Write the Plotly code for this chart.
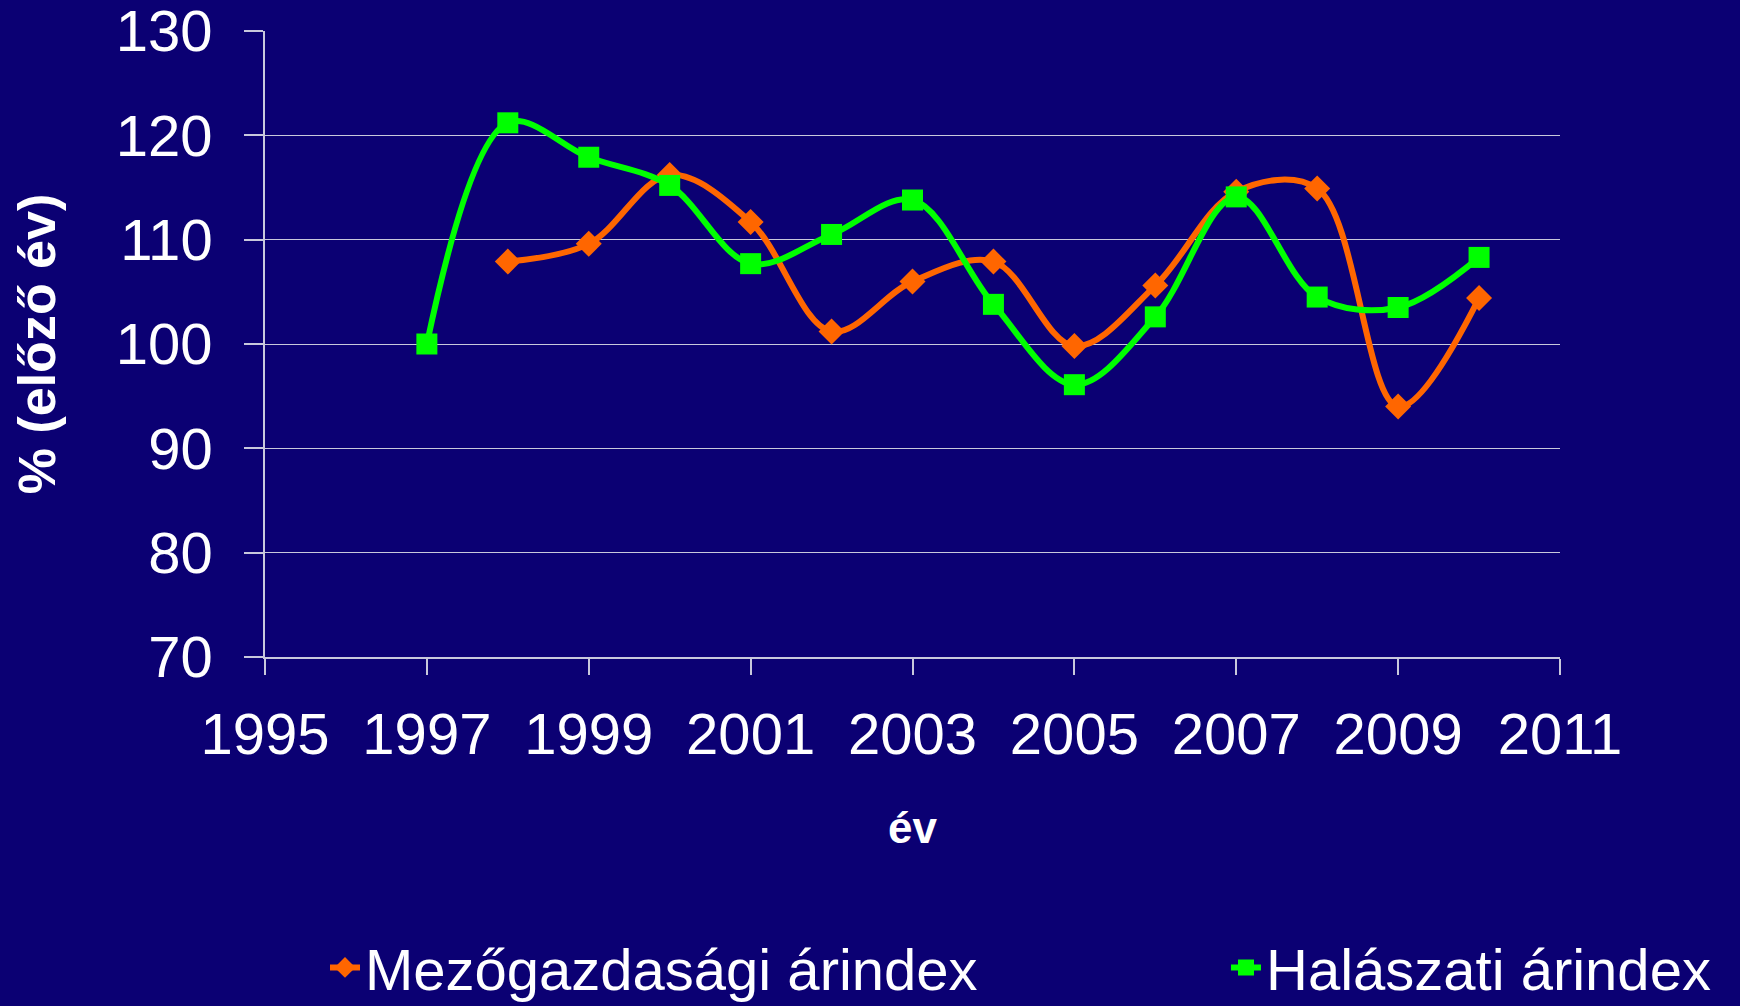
import plotly.graph_objects as go

# year-on-year price indices (% of previous year)
years_agri = [1998, 1999, 2000, 2001, 2002, 2003, 2004, 2005, 2006, 2007, 2008, 2009, 2010]
agri_index = [107.9, 109.6, 116.2, 111.7, 101.2, 106.0, 107.9, 99.8, 105.6, 114.6, 114.9, 94.0, 104.4]

years_fish = [1997, 1998, 1999, 2000, 2001, 2002, 2003, 2004, 2005, 2006, 2007, 2008, 2009, 2010]
fish_index = [100.0, 121.2, 117.9, 115.2, 107.7, 110.5, 113.8, 103.8, 96.1, 102.6, 114.1, 104.5, 103.5, 108.3]

bg = "#0b0073"
grid = "#c8c8dc"
font_family = "Liberation Sans, Arial, sans-serif"

fig = go.Figure()
fig.add_scatter(
    x=years_agri, y=agri_index, name="Mezőgazdasági árindex", legend="legend",
    mode="lines+markers", line=dict(color="#ff6600", width=6, shape="spline", smoothing=1),
    marker=dict(symbol="diamond", size=20, color="#ff6600"),
)
fig.add_scatter(
    x=years_fish, y=fish_index, name="Halászati árindex", legend="legend2",
    mode="lines+markers", line=dict(color="#00ff00", width=6, shape="spline", smoothing=1),
    marker=dict(symbol="square", size=21, color="#00ff00"),
)

leg_common = dict(
    orientation="h", xref="container", yref="container",
    xanchor="left", y=0.038, yanchor="middle",
    font=dict(size=58, color="white"), bgcolor="rgba(0,0,0,0)",
)

fig.update_layout(
    width=1740, height=1006,
    paper_bgcolor=bg, plot_bgcolor=bg,
    margin=dict(l=265, r=180, t=31, b=349),
    font=dict(family=font_family, color="white"),
    showlegend=True,
    legend=dict(x=325 / 1740, **leg_common),
    legend2=dict(x=1226 / 1740, **leg_common),
)

fig.update_xaxes(
    range=[1995, 2011], dtick=2, tick0=1995, showgrid=False, automargin=False,
    showline=True, linecolor=grid, linewidth=1.5,
    ticks="outside", ticklen=16, tickcolor=grid, tickwidth=1.5,
    tickfont=dict(size=58, color="white"), ticklabelstandoff=10,
    ticklabeloverflow="allow",
    title=dict(text="<b>év</b>", font=dict(size=44, color="white"), standoff=47),
    zeroline=False,
)
fig.update_yaxes(
    range=[70, 130], dtick=10, showgrid=True, gridcolor=grid, gridwidth=1.2, automargin=False,
    showline=True, linecolor=grid, linewidth=1.5,
    ticks="outside", ticklen=19, tickcolor=grid, tickwidth=1.5,
    tickfont=dict(size=58, color="white"), ticklabelstandoff=20,
    ticklabeloverflow="allow",
    title=dict(text="<b>% (előző év)</b>", font=dict(size=52, color="white"), standoff=44),
    zeroline=False,
)

fig.write_html(
    "out.html",
    config=dict(displayModeBar=False),
    post_script="document.body.style.margin='0';",
)
